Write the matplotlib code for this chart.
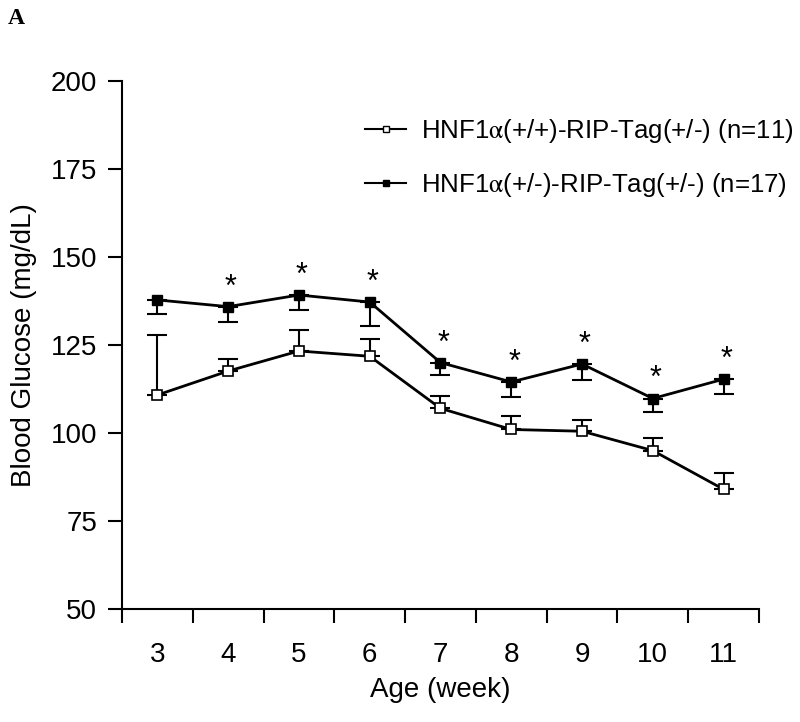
import matplotlib
matplotlib.use("Agg")
import matplotlib.pyplot as plt
import numpy as np

plt.rcParams['font.family'] = ['Liberation Sans', 'DejaVu Sans']
plt.rcParams['mathtext.fontset'] = 'stix'

# data (weeks, mean glucose, one-sided SEM)
semanas = [3, 4, 5, 6, 7, 8, 9, 10, 11]
wt_media = [110.8, 117.6, 123.3, 121.8, 107.0, 101.0, 100.5, 95.0, 84.0]
wt_erro = [17.0, 3.4, 6.0, 5.0, 3.6, 3.8, 3.1, 3.6, 4.5]
het_media = [137.8, 135.9, 139.2, 137.2, 120.0, 114.5, 119.6, 109.8, 115.3]
het_erro = [4.0, 4.3, 4.2, 6.7, 3.4, 4.2, 4.5, 3.7, 4.2]
signif = [4, 5, 6, 7, 8, 9, 10, 11]

rotulo_wt = r"HNF1$\mathrm{\alpha}$(+/+)-RIP-Tag(+/-) (n=11)"
rotulo_het = r"HNF1$\mathrm{\alpha}$(+/-)-RIP-Tag(+/-) (n=17)"

fig = plt.figure(figsize=(8, 7.22), dpi=100)
ax = fig.add_axes([122 / 800, 1 - 609 / 722, (759 - 122) / 800, (609 - 81) / 722])

# white squares: upper error only
ax.errorbar(semanas, wt_media, yerr=[np.zeros(len(wt_erro)), wt_erro],
            fmt='none', ecolor='black', elinewidth=1.5, capsize=7, capthick=1.5, zorder=2)
ax.plot(semanas, wt_media, color='black', lw=2, marker='s', ms=6.5,
        mfc='white', mec='black', mew=1.2, zorder=3)

# black squares: lower error only
ax.errorbar(semanas, het_media, yerr=[het_erro, np.zeros(len(het_erro))],
            fmt='none', ecolor='black', elinewidth=1.5, capsize=7, capthick=1.5, zorder=2)
ax.plot(semanas, het_media, color='black', lw=2, marker='s', ms=6.5,
        mfc='black', mec='black', zorder=3)

for s in signif:
    y = het_media[semanas.index(s)]
    ax.annotate('*', (s, y), xytext=(2, 3), textcoords='offset points',
                ha='center', va='bottom', fontsize=22)

# legend handles (smaller markers than the plot)
h1, = ax.plot([], [], color='black', lw=1.5, marker='s', ms=4.5, mfc='white', mec='black')
h2, = ax.plot([], [], color='black', lw=1.5, marker='s', ms=4.5, mfc='black', mec='black')
ax.legend([h1, h2], [rotulo_wt, rotulo_het], loc='upper left',
          bbox_to_anchor=(0.345, 0.975), frameon=False, fontsize=18.6,
          handlelength=1.6, handletextpad=0.55, labelspacing=1.0)

ax.set_ylim(50, 200)
ax.set_yticks(np.arange(50, 201, 25))
ax.set_xlim(2.5, 11.5)
ax.set_xticks(np.arange(2.5, 11.6, 1))
ax.set_xticklabels([])
ax.set_xticks(semanas, minor=True)
ax.set_xticklabels([str(s) for s in semanas], minor=True)
ax.tick_params(axis='x', which='minor', length=0, pad=24, labelsize=20)
ax.tick_params(axis='x', which='major', direction='out', length=10, width=1.5)
ax.tick_params(axis='y', direction='out', length=10, width=1.5, labelsize=20, pad=8)

for lado in ['top', 'right']:
    ax.spines[lado].set_visible(False)
for lado in ['left', 'bottom']:
    ax.spines[lado].set_linewidth(1.5)

ax.set_xlabel('Age (week)', fontsize=20, labelpad=6)
ax.set_ylabel('Blood Glucose (mg/dL)', fontsize=20, labelpad=10)

fig.text(8 / 800, 1 - 19 / 722, 'A', fontsize=17, fontweight='bold',
         family='Liberation Serif', va='center', ha='left')

fig.savefig('out.png', dpi=100)
